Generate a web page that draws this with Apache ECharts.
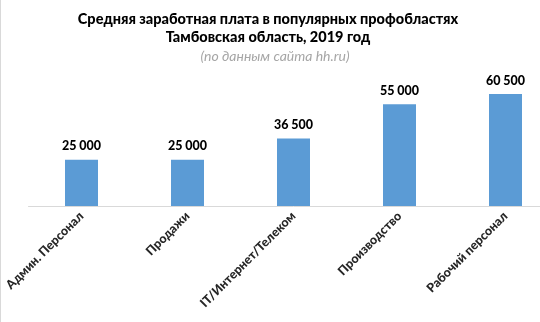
<!DOCTYPE html>
<html><head><meta charset="utf-8">
<script src="https://cdn.jsdelivr.net/npm/echarts@6/dist/echarts.min.js"></script>
<style>html,body{margin:0;padding:0;background:#fff;overflow:hidden}#c{width:560px;height:322px}</style>
</head><body><div id="c"></div>
<script>
var categories = ['Админ. Персонал', 'Продажи', 'IT/Интернет/Телеком', 'Производство', 'Рабочий персонал'];
var salaries = [25000, 25000, 36500, 55000, 60500];
var titleLines = ['Средняя заработная плата в популярных профобластях', 'Тамбовская область, 2019 год'];
var subtitleText = '(по данным сайта hh.ru)';

var FONT = 'Lato';
var chart = echarts.init(document.getElementById('c'), null, {renderer: 'canvas'});
chart.setOption({
  animation: false,
  backgroundColor: '#fff',
  title: [
    {text: titleLines[0], left: 263, top: 7, textAlign: 'center',
     textStyle: {fontFamily: FONT, fontWeight: 900, fontSize: 14.5, color: '#000'}},
    {text: titleLines[1], left: 263, top: 25, textAlign: 'center',
     textStyle: {fontFamily: FONT, fontWeight: 900, fontSize: 14.5, color: '#000'}},
    {text: subtitleText, left: 270, top: 44, textAlign: 'center',
     textStyle: {fontFamily: FONT, fontStyle: 'italic', fontWeight: 'normal', fontSize: 14, color: '#a6a6a6'}}
  ],
  grid: {left: 28.5, width: 530, top: 76.4, bottom: 116, containLabel: false},
  xAxis: {
    type: 'category', data: categories,
    axisLine: {lineStyle: {color: '#d9d9d9', width: 1}},
    axisTick: {show: false},
    axisLabel: {rotate: 45, margin: 8, interval: 0, fontFamily: FONT, fontWeight: 900, fontSize: 12.5, color: '#262626'}
  },
  yAxis: {type: 'value', min: 0, max: 70000, show: false, splitLine: {show: false}},
  series: [{
    type: 'bar', data: salaries, barWidth: 33,
    itemStyle: {color: '#5b9bd5'},
    label: {show: true, position: 'top', distance: 7, fontFamily: FONT, fontWeight: 900, fontSize: 12.5, color: '#000',
      formatter: function (p) { return String(p.value).replace(/\B(?=(\d{3})+(?!\d))/g, ' '); }}
  }],
  graphic: [{type: 'line', shape: {x1: 0.5, y1: 0, x2: 0.5, y2: 322}, style: {stroke: '#d9d9d9', lineWidth: 1}}]
});
</script></body></html>
